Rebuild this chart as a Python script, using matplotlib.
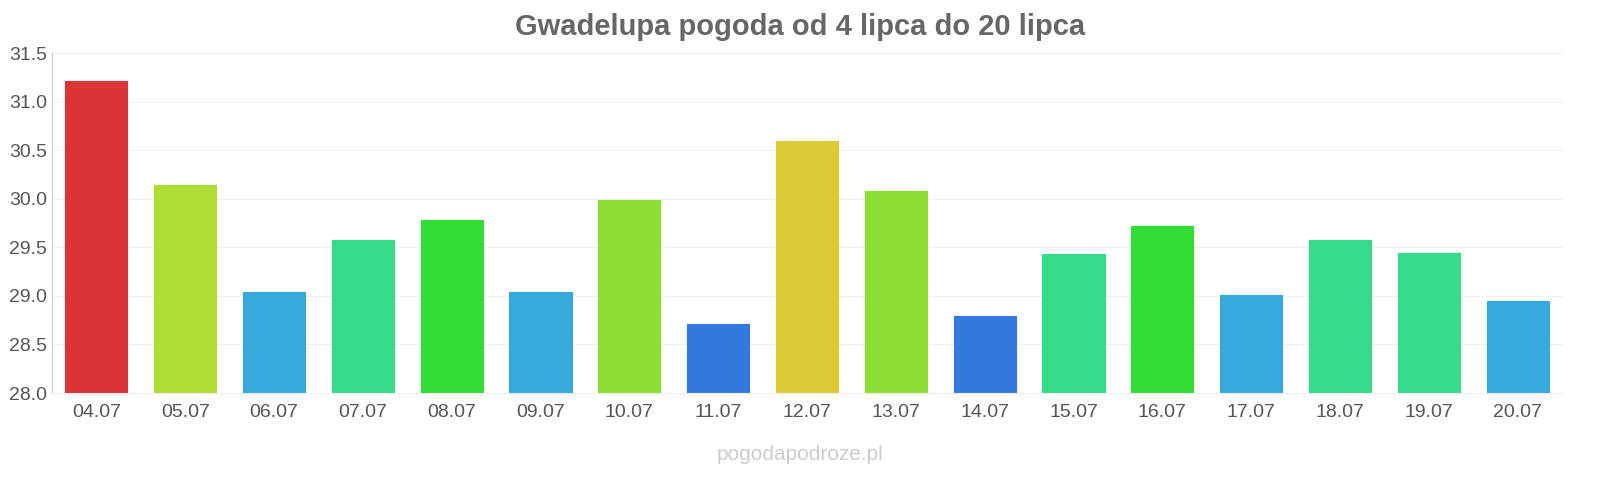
import matplotlib.pyplot as plt

plt.rcParams["font.family"] = "Liberation Sans"

days = ["04.07", "05.07", "06.07", "07.07", "08.07", "09.07", "10.07", "11.07", "12.07",
        "13.07", "14.07", "15.07", "16.07", "17.07", "18.07", "19.07", "20.07"]
temps = [31.21, 30.14, 29.04, 29.57, 29.78, 29.04, 29.99, 28.71, 30.59,
         30.08, 28.79, 29.43, 29.72, 29.01, 29.57, 29.44, 28.95]
colors = ["#dc3434", "#aede34", "#36a8db", "#36db8a", "#34dc36", "#36a8db", "#8bde34", "#3478db", "#dccb34",
          "#8bde34", "#3478db", "#36db8a", "#34dc36", "#36a8db", "#36db8a", "#36db8a", "#36a8db"]

fig = plt.figure(figsize=(16, 4.8), dpi=100)
ax = fig.add_axes([52 / 1600, 1 - 393 / 480, 1510 / 1600, 340 / 480])
ax.bar(range(len(days)), [t - 28 for t in temps], bottom=28, width=0.7,
       color=colors, edgecolor=colors, linewidth=0.8)
ax.set_ylim(28, 31.5)
ax.set_xlim(-0.5, len(days) - 0.5)
ax.set_yticks([28.0, 28.5, 29.0, 29.5, 30.0, 30.5, 31.0, 31.5])
ax.set_yticklabels(["28.0", "28.5", "29.0", "29.5", "30.0", "30.5", "31.0", "31.5"])
ax.set_xticks(range(len(days)))
ax.set_xticklabels(days)
ax.tick_params(labelsize=14, colors="#555555", length=0)
ax.tick_params(axis="x", pad=8)
ax.grid(axis="y", color="#f0f0f0", linewidth=0.8)
ax.set_axisbelow(True)
for s in ["top", "right"]:
    ax.spines[s].set_visible(False)
ax.spines["left"].set_color("#cccccc")
ax.spines["bottom"].set_color("#eeeeee")
fig.text(0.5, 1 - 27 / 480, "Gwadelupa pogoda od 4 lipca do 20 lipca", ha="center", va="center",
         fontsize=21, fontweight="bold", color="#666666")
fig.text(0.5, 1 - 455 / 480, "pogodapodroze.pl", ha="center", va="center", fontsize=15, color="#cccccc")
fig.savefig("out.png")
